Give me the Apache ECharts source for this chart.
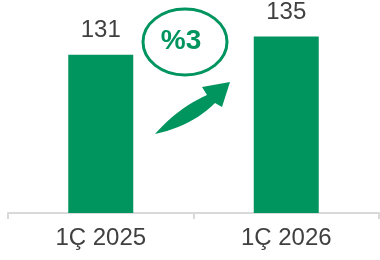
<!DOCTYPE html>
<html>
<head>
<meta charset="utf-8">
<script src="https://cdn.jsdelivr.net/npm/echarts@6/dist/echarts.min.js"></script>
<style>
  html, body { margin: 0; padding: 0; background: #fff; }
  #BarChart { width: 380px; height: 260px; }
</style>
</head>
<body>
<div id="BarChart"></div>
<script>
// data
const categories = ["1Ç 2025", "1Ç 2026"];
const values = [131, 135];
const changeLabel = "%3";

const green = "#00945E";
const textColor = "#404040";
const font = "'Liberation Sans', Arial, sans-serif";

// quadratic curve points for the arrow shaft
function quad(p0, c, p1, n) {
  const pts = [];
  for (let i = 0; i <= n; i++) {
    const t = i / n;
    const a = (1 - t) * (1 - t), b = 2 * (1 - t) * t, d = t * t;
    pts.push([a * p0[0] + b * c[0] + d * p1[0], a * p0[1] + b * c[1] + d * p1[1]]);
  }
  return pts;
}
const arrowPoints = []
  .concat(quad([155, 134], [178, 108], [207, 95], 12))
  .concat([[202, 87], [230, 82], [222, 107]])
  .concat(quad([215, 103], [192, 126], [155, 134], 12));

const chart = echarts.init(document.getElementById("BarChart"));

const options = {
  animation: false,
  grid: { left: 8, right: 1, top: 14, bottom: 47 },
  xAxis: {
    type: "category",
    data: categories,
    axisLine: { lineStyle: { color: "#d9d9d9", width: 2 } },
    axisTick: { show: true, length: 6, lineStyle: { color: "#d9d9d9", width: 2 } },
    axisLabel: { color: textColor, fontSize: 24, fontFamily: font, margin: 13 },
  },
  yAxis: {
    type: "value",
    min: 96,
    max: 140,
    show: false,
    splitLine: { show: false },
  },
  series: [
    {
      type: "bar",
      data: values,
      barWidth: 65,
      itemStyle: { color: green },
      label: {
        show: true,
        position: "top",
        distance: 12,
        color: textColor,
        fontSize: 24,
        fontFamily: font,
      },
    },
  ],
  graphic: [
    {
      type: "ellipse",
      shape: { cx: 185, cy: 42, rx: 42, ry: 33 },
      style: { fill: "none", stroke: green, lineWidth: 3 },
    },
    {
      type: "text",
      x: 181,
      y: 41,
      style: {
        text: changeLabel,
        fill: green,
        font: "bold 28px " + font,
        textAlign: "center",
        textVerticalAlign: "middle",
      },
    },
    {
      type: "polygon",
      shape: { points: arrowPoints },
      style: { fill: green },
    },
  ],
};
chart.setOption(options);
</script>
</body>
</html>
